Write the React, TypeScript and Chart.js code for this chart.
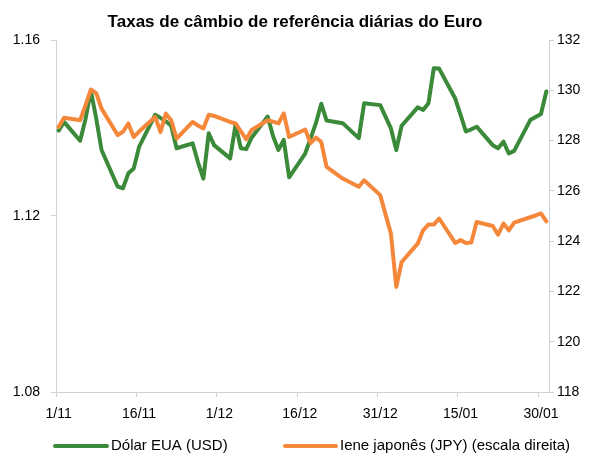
import React, { useEffect, useRef } from "react";
import { Chart, registerables } from "chart.js";

Chart.register(...registerables);

const chartTitle = "Taxas de câmbio de referência diárias do Euro";
const seriesNames = ["Dólar EUA (USD)", "Iene japonês (JPY) (escala direita)"];

const dates = [
  "2018-11-01", "2018-11-02", "2018-11-05", "2018-11-06", "2018-11-07", "2018-11-08", "2018-11-09",
  "2018-11-12", "2018-11-13", "2018-11-14", "2018-11-15", "2018-11-16", "2018-11-19", "2018-11-20",
  "2018-11-21", "2018-11-22", "2018-11-23", "2018-11-26", "2018-11-27", "2018-11-28", "2018-11-29",
  "2018-11-30",
  "2018-12-03", "2018-12-04", "2018-12-05", "2018-12-06", "2018-12-07", "2018-12-10", "2018-12-11",
  "2018-12-12", "2018-12-13", "2018-12-14", "2018-12-17", "2018-12-18", "2018-12-19", "2018-12-20",
  "2018-12-21", "2018-12-24", "2018-12-27", "2018-12-28", "2018-12-31",
  "2019-01-02", "2019-01-03", "2019-01-04", "2019-01-07", "2019-01-08", "2019-01-09", "2019-01-10",
  "2019-01-11", "2019-01-14", "2019-01-15", "2019-01-16", "2019-01-17", "2019-01-18", "2019-01-21",
  "2019-01-22", "2019-01-23", "2019-01-24", "2019-01-25", "2019-01-28", "2019-01-29", "2019-01-30",
  "2019-01-31",
];

const usdValues = [
  1.1394, 1.1414, 1.1371, 1.142, 1.1485, 1.1422, 1.135, 1.1267, 1.1263, 1.1297, 1.1308, 1.1357,
  1.143, 1.1423, 1.1415, 1.1405, 1.1354, 1.1365, 1.1322, 1.1285, 1.1388, 1.1361,
  1.1331, 1.1407, 1.1354, 1.1352, 1.1378, 1.1426, 1.1382, 1.135, 1.1373, 1.1288, 1.1342, 1.1376,
  1.1411, 1.1455, 1.1417, 1.1411, 1.1377, 1.1456, 1.1452,
  1.1399, 1.135, 1.1405, 1.1447, 1.1441, 1.1456, 1.1536, 1.1535, 1.1467, 1.143, 1.1392, 1.1397,
  1.1403, 1.1361, 1.1354, 1.1369, 1.1342, 1.1348, 1.1418, 1.1425, 1.1432, 1.1483,
];

const jpyValues = [
  128.54, 128.91, 128.81, 129.4, 130.03, 129.89, 129.27, 128.22, 128.35, 128.68, 128.14, 128.36,
  128.94, 128.34, 129.07, 128.81, 128.08, 128.74, 128.6, 128.48, 129.03, 128.98,
  128.74, 128.68, 128.37, 128.05, 128.42, 128.81, 128.75, 128.68, 129.08, 128.14, 128.44, 127.9,
  128.12, 127.94, 126.95, 126.49, 126.16, 126.42, 125.83,
  124.3, 122.18, 123.17, 123.9, 124.43, 124.66, 124.66, 124.9, 123.93, 124.04, 123.93, 123.95,
  124.76, 124.6, 124.26, 124.7, 124.43, 124.74, 124.95, 125.02, 125.1, 124.79,
];

const xTickLabels = ["1/11", "16/11", "1/12", "16/12", "31/12", "15/01", "30/01"];
const xTickDays = [0, 15, 30, 45, 60, 75, 90];
const usdTicks = [1.08, 1.12, 1.16];
const jpyTicks = [118, 120, 122, 124, 126, 128, 130, 132];

const FONT = "'Liberation Sans', Arial, sans-serif";
const GREEN = "#3b8a3a";
const ORANGE = "#f5873a";
const AXIS = "#d0d0d0";

const startUTC = Date.UTC(2018, 10, 1);
function dayIndex(iso: string): number {
  const [y, m, d] = iso.split("-").map(Number);
  return Math.round((Date.UTC(y, m - 1, d) - startUTC) / 86400000);
}

const legendPlugin = {
  id: "customLegend",
  afterDraw(chart: any) {
    const ctx = chart.ctx;
    const y = 446;
    const items = [
      { color: GREEN, text: seriesNames[0], x0: 55, x1: 107, tx: 111 },
      { color: ORANGE, text: seriesNames[1], x0: 285, x1: 336, tx: 340 },
    ];
    ctx.save();
    ctx.font = `15px ${FONT}`;
    ctx.textBaseline = "middle";
    ctx.textAlign = "left";
    for (const it of items) {
      ctx.strokeStyle = it.color;
      ctx.lineWidth = 4;
      ctx.lineCap = "round";
      ctx.beginPath();
      ctx.moveTo(it.x0, y);
      ctx.lineTo(it.x1, y);
      ctx.stroke();
      ctx.fillStyle = "#000";
      ctx.fillText(it.text, it.tx, y);
    }
    ctx.restore();
  },
};

export default function App() {
  const ref = useRef<HTMLCanvasElement | null>(null);

  useEffect(() => {
    if (!ref.current) return;
    const days = dates.map(dayIndex);
    const chart = new Chart(ref.current, {
      type: "line",
      data: {
        datasets: [
          {
            label: seriesNames[0],
            data: days.map((d, i) => ({ x: d, y: usdValues[i] })),
            borderColor: GREEN,
            backgroundColor: GREEN,
            borderWidth: 4,
            pointRadius: 0,
            borderJoinStyle: "round",
            borderCapStyle: "round",
            yAxisID: "y",
            order: 1,
          },
          {
            label: seriesNames[1],
            data: days.map((d, i) => ({ x: d, y: jpyValues[i] })),
            borderColor: ORANGE,
            backgroundColor: ORANGE,
            borderWidth: 4,
            pointRadius: 0,
            borderJoinStyle: "round",
            borderCapStyle: "round",
            yAxisID: "y1",
            order: 0,
          },
        ],
      },
      options: {
        responsive: false,
        animation: false,
        events: [],
        layout: { padding: { left: 0, right: 0, top: 0, bottom: 34 } },
        plugins: {
          legend: { display: false },
          tooltip: { enabled: false },
          title: {
            display: true,
            text: chartTitle,
            color: "#000",
            font: { family: FONT, size: 17, weight: "bold" },
            padding: { top: 12, bottom: 7.6 },
          },
        },
        scales: {
          x: {
            type: "linear",
            min: -0.5,
            max: 91.5,
            afterBuildTicks: (scale: any) => {
              scale.ticks = xTickDays.map((d) => ({ value: d - 0.5 }));
            },
            afterFit: (scale: any) => {
              scale.height = 30;
            },
            ticks: {
              autoSkip: false,
              maxRotation: 0,
              labelOffset: 2.68,
              padding: 9,
              color: "#000",
              font: { family: FONT, size: 14 },
              callback: (_v: any, i: number) => xTickLabels[i],
            },
            grid: { display: true, drawOnChartArea: false, drawTicks: true, tickLength: 5, color: AXIS },
            border: { display: true, color: AXIS, width: 1 },
          },
          y: {
            type: "linear",
            position: "left",
            min: 1.08,
            max: 1.16,
            afterBuildTicks: (scale: any) => {
              scale.ticks = usdTicks.map((v) => ({ value: v }));
            },
            afterFit: (scale: any) => {
              scale.width = 56;
            },
            ticks: {
              padding: 11,
              color: "#000",
              font: { family: FONT, size: 14 },
              callback: (v: any) => Number(v).toFixed(2),
            },
            grid: { display: true, drawOnChartArea: false, drawTicks: true, tickLength: 5, color: AXIS },
            border: { display: true, color: AXIS, width: 1 },
          },
          y1: {
            type: "linear",
            position: "right",
            min: 118,
            max: 132,
            afterBuildTicks: (scale: any) => {
              scale.ticks = jpyTicks.map((v) => ({ value: v }));
            },
            afterFit: (scale: any) => {
              scale.width = 41;
            },
            ticks: {
              padding: 3,
              color: "#000",
              font: { family: FONT, size: 14 },
              callback: (v: any) => String(v),
            },
            grid: { display: true, drawOnChartArea: false, drawTicks: true, tickLength: 5, color: AXIS },
            border: { display: true, color: AXIS, width: 1 },
          },
        },
      },
      plugins: [legendPlugin],
    } as any);
    return () => chart.destroy();
  }, []);

  return (
    <div style={{ position: "absolute", left: 0, top: 0, width: 590, height: 456, background: "#fff" }}>
      <canvas ref={ref} width={590} height={456} style={{ width: 590, height: 456, display: "block" }} />
    </div>
  );
}
